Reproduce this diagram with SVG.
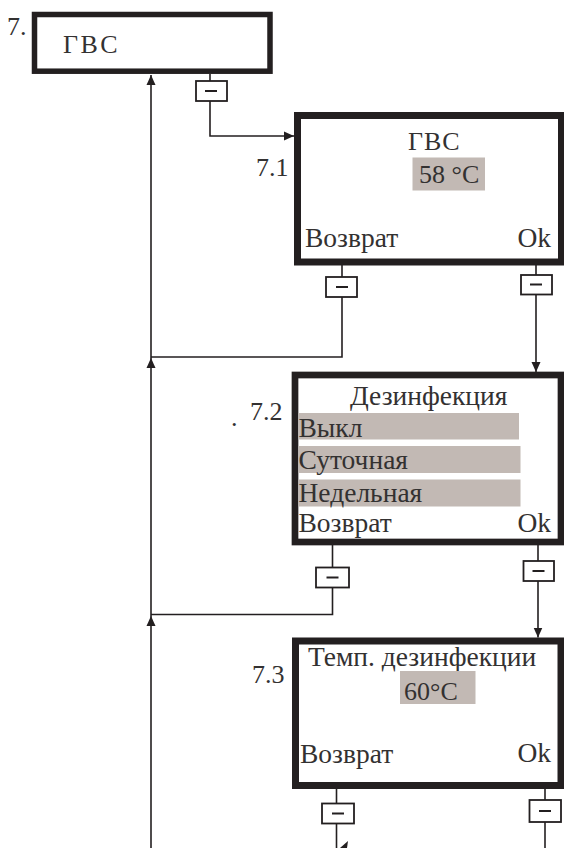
<svg xmlns="http://www.w3.org/2000/svg" width="564" height="848" viewBox="0 0 564 848">
<defs>
<style>
.t{font-family:"Liberation Serif","Times New Roman",serif;font-size:26px;fill:#333131}
.b{font-size:27.5px}
.box{fill:#fff;stroke:#231f20}
.hl{fill:#c2b9b4}
.ln{fill:none;stroke:#231f20;stroke-width:1.6}
.key{fill:#fff;stroke:#231f20;stroke-width:1.8}
.minus{stroke:#231f20;stroke-width:2}
.ah{fill:#231f20}
</style>
<marker id="arr" viewBox="0 0 10 10" refX="10" refY="5" markerWidth="10" markerHeight="10" markerUnits="userSpaceOnUse" orient="auto">
<path d="M0,0.5 L10,5 L0,9.5 Z" fill="#231f20"/>
</marker>
</defs>
<rect width="564" height="848" fill="#fff"/>

<g id="connectors">
  <!-- main return line -->
  <line class="ln" x1="151" y1="848" x2="151" y2="616" marker-end="url(#arr)"/>
  <line class="ln" x1="151" y1="616" x2="151" y2="358" marker-end="url(#arr)"/>
  <line class="ln" x1="151" y1="358" x2="151" y2="75" marker-end="url(#arr)"/>
  <!-- 7 -> 7.1 -->
  <line class="ln" x1="210" y1="74" x2="210" y2="81"/>
  <polyline class="ln" points="210,101 210,136 294,136" marker-end="url(#arr)"/>
  <rect class="key" x="196" y="81" width="31" height="20"/>
  <line class="minus" x1="205" y1="91" x2="217" y2="91"/>
  <!-- 7.1 back -->
  <line class="ln" x1="342" y1="265" x2="342" y2="277"/>
  <polyline class="ln" points="342,297 342,357 151,357"/>
  <rect class="key" x="326" y="277" width="31" height="20"/>
  <line class="minus" x1="336" y1="287" x2="348" y2="287"/>
  <!-- 7.1 ok -->
  <line class="ln" x1="536" y1="265" x2="536" y2="275"/>
  <line class="ln" x1="536" y1="294" x2="536" y2="372" marker-end="url(#arr)"/>
  <rect class="key" x="521" y="275" width="31" height="19.5"/>
  <line class="minus" x1="530" y1="284.5" x2="542" y2="284.5"/>
  <!-- 7.2 back -->
  <line class="ln" x1="332.5" y1="545" x2="332.5" y2="567.5"/>
  <polyline class="ln" points="332.5,587.5 332.5,614.5 151,614.5"/>
  <rect class="key" x="316" y="567.5" width="33" height="20"/>
  <line class="minus" x1="326.5" y1="577.5" x2="338.5" y2="577.5"/>
  <!-- 7.2 ok -->
  <line class="ln" x1="538" y1="545" x2="538" y2="561"/>
  <line class="ln" x1="538" y1="581" x2="538" y2="637.5" marker-end="url(#arr)"/>
  <rect class="key" x="523.5" y="561" width="30.5" height="20"/>
  <line class="minus" x1="532.5" y1="571" x2="544.5" y2="571"/>
  <!-- 7.3 back -->
  <line class="ln" x1="336.5" y1="789" x2="336.5" y2="803.5"/>
  <line class="ln" x1="336.5" y1="823.5" x2="336.5" y2="848"/>
  <rect class="key" x="322" y="803.5" width="32" height="20"/>
  <line class="minus" x1="332" y1="813.5" x2="344" y2="813.5"/>
  <polygon class="ah" points="340,848 348,841 347,848"/>
  <!-- 7.3 ok -->
  <line class="ln" x1="545" y1="789" x2="545" y2="800"/>
  <line class="ln" x1="545" y1="822" x2="545" y2="848"/>
  <rect class="key" x="529.5" y="800" width="31.5" height="22"/>
  <line class="minus" x1="539" y1="811" x2="551" y2="811"/>
</g>

<g id="node-7">
  <rect class="box" x="34.5" y="14.5" width="235.5" height="56.7" stroke-width="5.5"/>
  <text class="t" x="7" y="35">7.</text>
  <text class="t" x="63" y="53" letter-spacing="2.5">ГВС</text>
</g>

<g id="node-7-1">
  <rect class="box" x="297.5" y="115.5" width="264" height="146.5" stroke-width="7"/>
  <text class="t" x="256" y="176">7.1</text>
  <text class="t" x="408" y="149.5" letter-spacing="1">ГВС</text>
  <rect class="hl" x="412.5" y="157.5" width="72.5" height="33"/>
  <text class="t" x="419" y="183">58 °C</text>
  <text class="t b" x="305" y="246.5">Возврат</text>
  <text class="t b" x="551" y="246.5" text-anchor="end">Ok</text>
</g>

<g id="node-7-2">
  <rect class="box" x="295" y="375" width="266" height="167" stroke-width="6.7"/>
  <text class="t" x="250" y="420">7.2</text>
  <text class="t" x="231" y="426" font-size="16">.</text>
  <text class="t b" x="350" y="405">Дезинфекция</text>
  <rect class="hl" x="298.5" y="413" width="220.5" height="26.5"/>
  <rect class="hl" x="298.5" y="446" width="222" height="27"/>
  <rect class="hl" x="298.5" y="479.5" width="222" height="27"/>
  <text class="t b" x="298.5" y="436.5">Выкл</text>
  <text class="t b" x="298.5" y="469">Суточная</text>
  <text class="t b" x="298.5" y="501.5">Недельная</text>
  <text class="t b" x="298.5" y="532">Возврат</text>
  <text class="t b" x="551" y="532" text-anchor="end">Ok</text>
</g>

<g id="node-7-3">
  <rect class="box" x="295.5" y="641" width="265.5" height="144.5" stroke-width="7"/>
  <text class="t" x="252" y="683">7.3</text>
  <text class="t b" x="308" y="666">Темп. дезинфекции</text>
  <rect class="hl" x="400" y="671" width="75.5" height="33"/>
  <text class="t" x="404" y="700">60°C</text>
  <text class="t b" x="300" y="763">Возврат</text>
  <text class="t b" x="551" y="762" text-anchor="end">Ok</text>
</g>
</svg>
